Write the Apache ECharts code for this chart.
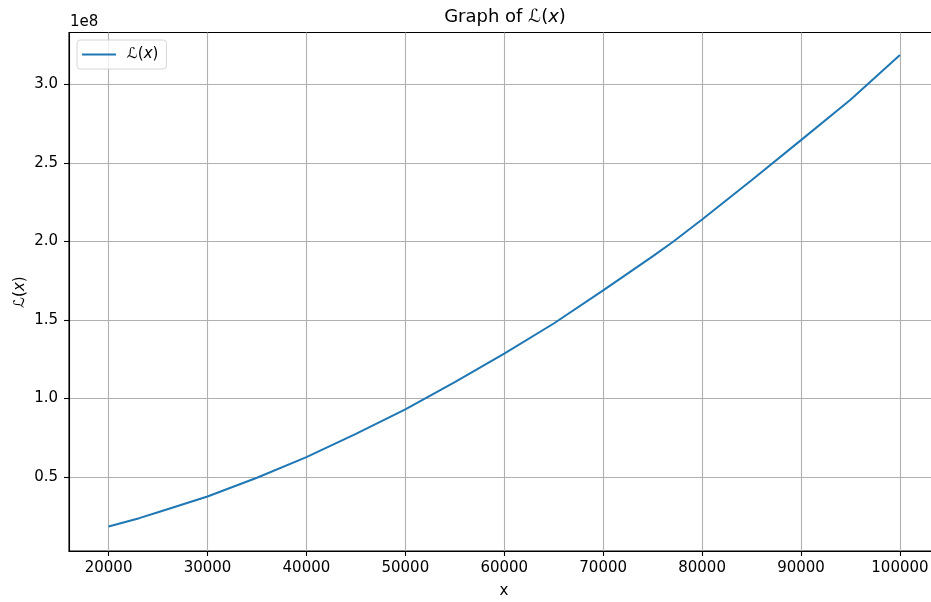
<!DOCTYPE html>
<html><head><meta charset="utf-8">
<script src="https://cdn.jsdelivr.net/npm/echarts@6/dist/echarts.min.js"></script>
<style>html,body{margin:0;padding:0;background:#fff}#c{width:931px;height:602px}</style>
</head><body><div id="c"></div>
<script>
const xValues = [20000, 23100, 25000, 30000, 35000, 40000, 45000, 50000, 55000, 60000, 65000, 70000, 75000, 77000, 80000, 85000, 90000, 95000, 100000];
const lValues = [0.186e8, 0.239e8, 0.277e8, 0.377e8, 0.496e8, 0.627e8, 0.775e8, 0.931e8, 1.105e8, 1.286e8, 1.478e8, 1.689e8, 1.905e8, 1.995e8, 2.140e8, 2.390e8, 2.645e8, 2.902e8, 3.187e8];
const xTicks = [20000, 30000, 40000, 50000, 60000, 70000, 80000, 90000, 100000];
const yTicks = [0.5e8, 1.0e8, 1.5e8, 2.0e8, 2.5e8, 3.0e8];

const FONT = 'DejaVu Sans';
const chart = echarts.init(document.getElementById('c'), null, {renderer: 'canvas'});
const mathRich = {
  n: {fontFamily: FONT, fontSize: 18, color: '#000'},
  s: {fontFamily: FONT, fontSize: 18, fontStyle: 'italic', color: '#000'},
  i: {fontFamily: FONT, fontSize: 18, fontStyle: 'italic', color: '#000'}
};
const smallRich = {
  n: {fontFamily: FONT, fontSize: 15, color: '#000'},
  s: {fontFamily: FONT, fontSize: 15, fontStyle: 'italic', color: '#000'},
  i: {fontFamily: FONT, fontSize: 15, fontStyle: 'italic', color: '#000'}
};
chart.setOption({
  animation: false,
  backgroundColor: '#fff',
  grid: {left: 69, top: 32.5, width: 870.5, height: 518.5, outerBoundsMode: 'none', show: true, borderColor: '#000', borderWidth: 1.1, containLabel: false},
  xAxis: {
    type: 'value', min: 16000, max: 104000,
    axisLine: {show: true, onZero: false, lineStyle: {color: '#000', width: 1.1}},
    axisTick: {show: true, inside: false, length: 5, lineStyle: {color: '#000', width: 1.1}, customValues: xTicks},
    axisLabel: {margin: 10, color: '#000', fontFamily: FONT, fontSize: 15, customValues: xTicks, formatter: v => String(v)},
    splitLine: {show: true, lineStyle: {color: '#b0b0b0', width: 1.1}}
  },
  yAxis: {
    type: 'value', min: 0.03e8, max: 3.33e8,
    axisLine: {show: true, onZero: false, lineStyle: {color: '#000', width: 1.1}},
    axisTick: {show: true, inside: false, length: 5, lineStyle: {color: '#000', width: 1.1}, customValues: yTicks},
    axisLabel: {margin: 11, color: '#000', fontFamily: FONT, fontSize: 15, customValues: yTicks, formatter: v => (v / 1e8).toFixed(1)},
    splitLine: {show: true, lineStyle: {color: '#b0b0b0', width: 1.1}}
  },
  legend: {
    left: 77, top: 40,
    orient: 'vertical',
    icon: 'rect', itemWidth: 34, itemHeight: 2, itemGap: 5,
    padding: [7, 8, 7, 5],
    borderColor: '#d6d6d6', borderWidth: 1, borderRadius: 3,
    backgroundColor: 'rgba(255,255,255,0.8)',
    textStyle: {fontFamily: FONT, fontSize: 15, color: '#000', padding: [0, 0, 0, 6], rich: smallRich},
    formatter: () => '{s|ℒ}{n|(}{i|x}{n|)}',
    data: ['L']
  },
  series: [{
    name: 'L', type: 'line', data: xValues.map((x, k) => [x, lValues[k]]),
    symbol: 'none', showSymbol: false, smooth: false,
    lineStyle: {color: '#1f77b4', width: 2}, itemStyle: {color: '#1f77b4'}
  }],
  graphic: [
    {type: 'text', x: 505, y: 17, style: {text: '{n|Graph of }{s|ℒ}{n|(}{i|x}{n|)}', rich: mathRich, align: 'center', verticalAlign: 'middle'}},
    {type: 'text', x: 70, y: 22, style: {text: '1e8', fontFamily: FONT, fontSize: 15, fill: '#000', align: 'left', verticalAlign: 'middle'}},
    {type: 'text', x: 20, y: 292, rotation: Math.PI / 2, style: {text: '{s|ℒ}{n|(}{i|x}{n|)}', rich: smallRich, align: 'center', verticalAlign: 'middle'}},
    {type: 'text', x: 504, y: 591, style: {text: 'x', fontFamily: FONT, fontSize: 15, fill: '#000', align: 'center', verticalAlign: 'middle'}}
  ]
});
</script></body></html>
